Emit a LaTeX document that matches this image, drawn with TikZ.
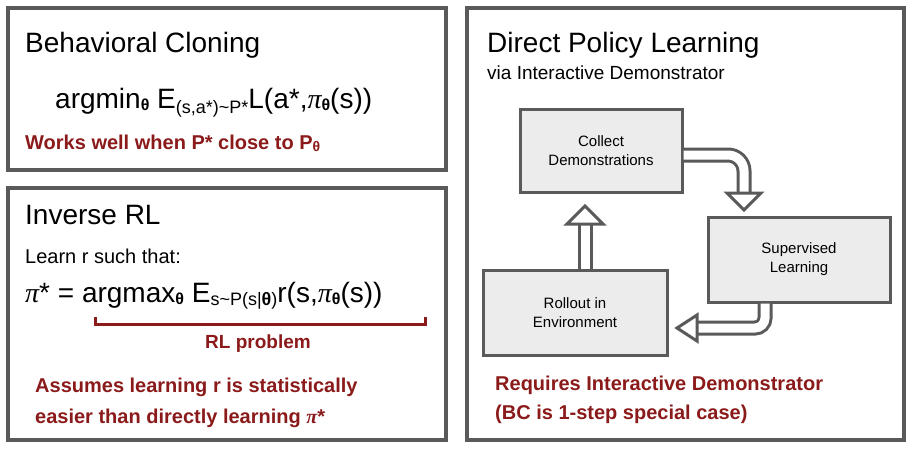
\documentclass[tikz,border=0pt]{standalone}
\usepackage{fontspec}
\setmainfont{Liberation Sans}
\newfontfamily\serifpi{Liberation Serif}
\definecolor{frame}{HTML}{5A5A5A}
\definecolor{dred}{HTML}{8B1A1A}
\definecolor{boxfill}{HTML}{ECECEC}
\newcommand{\fs}[1]{\fontsize{#1}{#1}\selectfont}
\newcommand{\mypi}{{\serifpi\itshape π}}
\newcommand{\tht}{{\bfseries θ}}
\begin{document}
\begin{tikzpicture}[x=1pt,y=-1pt,
  panel/.style={draw=frame,line width=4pt},
  stepbox/.style={draw=frame,fill=boxfill,line width=3pt,align=center,font=\fs{15},inner sep=0},
  txt/.style={anchor=base west,inner sep=0},
  red/.style={txt,text=dred,font=\bfseries\fs{20}},
  hollow/.style={draw=frame,line width=3pt,double=white,double distance=9pt},
  headst/.style={draw=frame,fill=white,line width=3pt,line join=miter}]
\useasboundingbox (0,0) rectangle (912,448);
\draw[panel] (8,8) rectangle (446,170);
\draw[panel] (8,188) rectangle (446,440);
\draw[panel] (467,8) rectangle (904,440);
% Behavioral cloning
\node[txt,font=\fs{28}] (bct) at (25,52) {Behavioral Cloning};
\node[txt,font=\fs{28}] (bcf) at (55,108) {argmin\raisebox{-2pt}{\fs{16}\tht} E\raisebox{-5pt}{\fs{18}(s,a*)\textasciitilde P*}L(a*,\mypi\raisebox{-2pt}{\fs{16}\tht}(s))};
\node[red] (bcr) at (25,149) {Works well when P* close to P\raisebox{-2pt}{\fs{14}θ}};
% Inverse RL
\node[txt,font=\fs{28}] (irt) at (25,224) {Inverse RL};
\node[txt,font=\fs{20}] (irl) at (25,263) {Learn r such that:};
\node[txt,font=\fs{28}] (irf) at (25,302) {\mypi* = argmax\raisebox{-2pt}{\fs{16}\tht} E\raisebox{-3pt}{\fs{18}s\textasciitilde P(s|\tht)}r(s,\mypi\raisebox{-2pt}{\fs{16}\tht}(s))};
\draw[dred,line width=3pt] (95,317) coordinate (b1) -- (95,324) -- (425,324) -- (425,317) coordinate (b2);
\node[txt,text=dred,font=\bfseries\fs{19},anchor=base] (rlp) at (258,348) {RL problem};
\node[red] (ira) at (35,392) {Assumes learning r is statistically};
\node[red] (irb) at (35,423) {easier than directly learning \mypi*};
% DPL
\node[txt,font=\fs{28}] (dpt) at (487,52) {Direct Policy Learning};
\node[txt,font=\fs{19}] (dps) at (487,79) {via Interactive Demonstrator};
\node[stepbox,minimum width=162pt,minimum height=83pt] (col) at (601,150.5) {Collect\\[4pt]Demonstrations};
\node[stepbox,minimum width=182pt,minimum height=85pt] (sup) at (799,259.5) {Supervised\\[4pt]Learning};
\node[stepbox,minimum width=184pt,minimum height=85pt] (rol) at (575,312.5) {Rollout in\\[4pt]Environment};
% arrows
\coordinate (y155) at (0,155);
\coordinate (x765) at (765,0);
\coordinate (x585) at (585,0);
\draw[hollow] (col.east |- y155) -- (728,155) arc[start angle=-90,end angle=0,radius=16] -- (744,194);
\draw[headst] (727,193) -- (761,193) -- (744,210) -- cycle;
\draw[hollow] (sup.south -| x765) -- (765,318) arc[start angle=0,end angle=90,radius=10] -- (696,328);
\draw[headst] (697,315) -- (697,341) -- (677,328) -- cycle;
\draw[hollow] (rol.north -| x585) -- (585,224);
\draw[headst] (567,224) -- (603,224) -- (585,206) -- cycle;
\node[red] (rq1) at (495,390) {Requires Interactive Demonstrator};
\node[red] (rq2) at (495,419) {(BC is 1-step special case)};
\end{tikzpicture}
\end{document}
